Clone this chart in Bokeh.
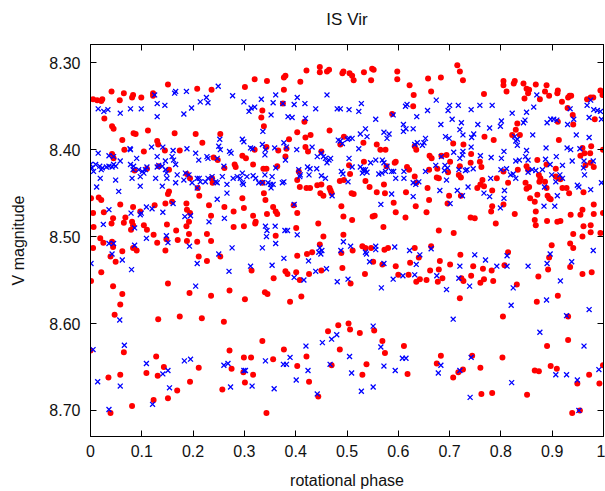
from bokeh.plotting import figure
from bokeh.models import Range1d, FixedTicker, LinearAxis, PrintfTickFormatter
from bokeh.embed import file_html
from bokeh.resources import INLINE

# ---- data: (rotational phase, V magnitude) ----
red_obs = [
    (0.151,8.325),(0.041,8.333),(0.065,8.335),(0.083,8.337),(0.081,8.340),(0.099,8.340),(0.122,8.335),(0.122,8.338),
    (0.208,8.330),(0.236,8.331),(0.301,8.328),(0.005,8.342),(0.013,8.343),(0.023,8.342),(0.021,8.344),(0.057,8.343),
    (0.027,8.364),(0.042,8.373),(0.045,8.376),(0.062,8.389),(0.084,8.381),(0.088,8.382),(0.112,8.378),(0.164,8.381),
    (0.205,8.382),(0.253,8.382),(0.130,8.390),(0.132,8.394),(0.218,8.392),(0.042,8.405),(0.066,8.400),(0.104,8.402),
    (0.145,8.401),(0.174,8.401),(0.045,8.410),(0.240,8.409),(0.248,8.412),(0.296,8.407),(0.303,8.410),(0.086,8.424),
    (0.110,8.422),(0.133,8.419),(0.153,8.423),(0.188,8.428),(0.194,8.433),(0.237,8.433),(0.238,8.438),(0.209,8.444),
    (0.212,8.453),(0.153,8.448),(0.151,8.451),(0.261,8.421),(0.281,8.417),(0.283,8.420),(0.001,8.456),(0.016,8.455),
    (0.021,8.458),(0.058,8.463),(0.083,8.466),(0.097,8.471),(0.125,8.464),(0.146,8.462),(0.159,8.460),(0.187,8.462),
    (0.188,8.469),(0.194,8.473),(0.231,8.464),(0.235,8.476),(0.261,8.466),(0.279,8.471),(0.296,8.456),(0.299,8.467),
    (0.005,8.473),(0.026,8.472),(0.044,8.479),(0.041,8.485),(0.068,8.478),(0.065,8.484),(0.081,8.483),(0.083,8.487),
    (0.079,8.492),(0.104,8.487),(0.006,8.489),(0.149,8.486),(0.167,8.493),(0.192,8.483),(0.187,8.488),(0.279,8.489),
    (0.299,8.488),(0.110,8.492),
    (0.019,8.502),(0.025,8.507),(0.042,8.506),(0.044,8.512),(0.005,8.513),(0.062,8.517),(0.083,8.513),(0.090,8.516),
    (0.039,8.523),(0.049,8.529),(0.123,8.498),(0.148,8.503),(0.130,8.507),(0.146,8.516),(0.170,8.504),(0.192,8.497),
    (0.188,8.505),(0.208,8.506),(0.227,8.497),(0.235,8.505),(0.211,8.523),(0.227,8.528),(0.253,8.523),(0.314,8.539),
    (0.021,8.541),(0.001,8.551),(0.044,8.557),(0.062,8.566),(0.058,8.578),(0.151,8.554),(0.193,8.565),(0.235,8.568),
    (0.271,8.562),(0.301,8.572),(0.047,8.590),(0.132,8.595),(0.174,8.592),(0.217,8.594),(0.260,8.598),(0.000,8.631),
    (0.065,8.633),(0.271,8.631),(0.299,8.639),(0.313,8.639),(0.128,8.638),(0.143,8.650),(0.109,8.657),(0.131,8.660),
    (0.035,8.662),(0.058,8.659),(0.211,8.651),(0.275,8.652),(0.298,8.656),(0.317,8.659),(0.301,8.668),(0.194,8.667),
    (0.169,8.677),(0.151,8.686),(0.123,8.688),(0.081,8.695),(0.257,8.676),(0.039,8.703),
    (0.320,8.319),(0.344,8.321),(0.377,8.317),(0.380,8.315),(0.409,8.322),(0.421,8.309),(0.447,8.305),(0.447,8.311),
    (0.461,8.310),(0.465,8.308),(0.491,8.312),(0.493,8.310),(0.505,8.312),(0.510,8.315),(0.513,8.320),(0.533,8.311),
    (0.549,8.307),(0.552,8.308),(0.547,8.320),(0.598,8.310),(0.598,8.319),(0.622,8.326),(0.630,8.337),(0.629,8.350),
    (0.377,8.331),(0.375,8.347),(0.335,8.355),(0.333,8.363),(0.417,8.368),(0.338,8.373),(0.403,8.380),(0.419,8.386),
    (0.429,8.383),(0.466,8.378),(0.387,8.388),(0.320,8.400),(0.343,8.397),(0.366,8.401),(0.380,8.408),(0.382,8.399),
    (0.419,8.397),(0.424,8.402),(0.450,8.402),(0.494,8.385),(0.487,8.394),(0.532,8.392),(0.558,8.394),(0.565,8.400),
    (0.575,8.400),(0.588,8.359),(0.635,8.400),(0.632,8.396),(0.317,8.417),(0.337,8.422),(0.343,8.422),(0.364,8.419),
    (0.406,8.425),(0.403,8.435),(0.408,8.443),(0.421,8.444),(0.428,8.444),(0.442,8.441),(0.450,8.440),(0.448,8.450),
    (0.454,8.453),(0.466,8.444),(0.468,8.447),(0.470,8.450),(0.486,8.436),(0.494,8.435),(0.506,8.428),(0.504,8.418),
    (0.509,8.450),(0.513,8.451),(0.533,8.414),(0.536,8.436),(0.544,8.443),(0.558,8.449),(0.572,8.440),(0.574,8.450),
    (0.577,8.419),(0.593,8.415),(0.595,8.414),(0.617,8.420),(0.621,8.423),(0.632,8.431),(0.635,8.438),(0.591,8.461),
    (0.595,8.472),(0.615,8.449),(0.634,8.465),(0.614,8.478),(0.338,8.450),(0.341,8.458),(0.356,8.466),(0.361,8.471),
    (0.364,8.474),(0.344,8.474),(0.317,8.476),(0.322,8.483),(0.321,8.485),(0.403,8.473),(0.396,8.464),(0.444,8.485),
    (0.489,8.465),(0.493,8.477),(0.510,8.481),(0.550,8.477),(0.554,8.476),(0.571,8.489),(0.401,8.490),(0.335,8.438),
    (0.361,8.499),(0.454,8.500),(0.493,8.498),(0.447,8.509),(0.489,8.519),(0.511,8.516),(0.530,8.511),(0.536,8.513),
    (0.547,8.513),(0.573,8.515),(0.580,8.513),(0.632,8.513),(0.640,8.524),(0.623,8.530),(0.595,8.534),(0.403,8.522),
    (0.422,8.520),(0.432,8.518),(0.380,8.540),(0.384,8.543),(0.401,8.541),(0.408,8.550),(0.426,8.543),(0.450,8.539),
    (0.491,8.536),(0.507,8.554),(0.535,8.543),(0.551,8.529),(0.569,8.532),(0.600,8.544),(0.620,8.544),(0.635,8.552),
    (0.642,8.549),(0.340,8.564),(0.345,8.566),(0.389,8.575),(0.411,8.569),(0.357,8.548),(0.335,8.620),(0.377,8.630),
    (0.356,8.641),(0.421,8.638),(0.403,8.649),(0.426,8.667),(0.444,8.684),(0.463,8.609),(0.483,8.602),(0.503,8.600),
    (0.506,8.607),(0.525,8.611),(0.486,8.630),(0.553,8.608),(0.569,8.620),(0.574,8.634),(0.611,8.626),(0.618,8.658),
    (0.538,8.647),(0.530,8.659),(0.470,8.648),(0.343,8.703),
    (0.715,8.303),(0.720,8.310),(0.726,8.320),(0.683,8.317),(0.658,8.318),(0.664,8.333),(0.767,8.336),(0.805,8.321),
    (0.805,8.326),(0.811,8.333),(0.825,8.324),(0.827,8.321),(0.844,8.324),(0.850,8.330),(0.855,8.331),(0.853,8.335),
    (0.846,8.341),(0.868,8.325),(0.889,8.326),(0.886,8.333),(0.876,8.342),(0.894,8.338),(0.910,8.335),(0.911,8.332),
    (0.919,8.345),(0.931,8.340),(0.934,8.338),(0.937,8.338),(0.930,8.352),(0.940,8.360),(0.941,8.371),(0.968,8.342),
    (0.975,8.340),(0.980,8.340),(0.994,8.332),(0.998,8.337),(0.983,8.365),(0.832,8.370),(0.829,8.377),(0.822,8.383),
    (0.837,8.383),(0.786,8.389),(0.768,8.385),(0.911,8.368),(0.913,8.389),(0.959,8.398),(0.976,8.396),(0.999,8.400),
    (0.661,8.407),(0.665,8.410),(0.684,8.407),(0.694,8.406),(0.707,8.393),(0.727,8.394),(0.742,8.405),(0.701,8.414),
    (0.720,8.419),(0.741,8.415),(0.759,8.414),(0.762,8.420),(0.660,8.423),(0.676,8.422),(0.675,8.432),(0.679,8.433),
    (0.697,8.426),(0.718,8.429),(0.722,8.432),(0.764,8.435),(0.792,8.433),(0.805,8.425),(0.833,8.423),(0.850,8.419),
    (0.871,8.412),(0.889,8.417),(0.853,8.423),(0.874,8.429),(0.877,8.433),(0.875,8.437),(0.907,8.422),(0.907,8.431),
    (0.912,8.433),(0.916,8.434),(0.928,8.444),(0.955,8.407),(0.963,8.404),(0.974,8.404),(0.975,8.415),(0.981,8.420),
    (0.965,8.418),(0.754,8.444),(0.760,8.440),(0.767,8.442),(0.783,8.447),(0.814,8.438),(0.848,8.438),(0.855,8.443),
    (0.850,8.445),(0.886,8.437),(0.889,8.444),(0.891,8.453),(0.894,8.456),(0.897,8.457),(0.871,8.452),(0.857,8.456),
    (0.920,8.444),(0.933,8.450),(0.961,8.449),(0.657,8.444),(0.660,8.458),(0.699,8.453),(0.696,8.462),(0.722,8.453),
    (0.783,8.465),(0.781,8.471),(0.805,8.463),(0.866,8.460),(0.868,8.471),(0.866,8.481),(0.868,8.487),(0.827,8.474),
    (0.790,8.485),(0.741,8.478),(0.749,8.479),(0.890,8.482),(0.910,8.483),(0.916,8.482),(0.936,8.475),(0.955,8.475),
    (0.959,8.469),(0.981,8.463),(0.981,8.474),(0.999,8.473),(0.655,8.472),(0.679,8.493),(0.961,8.488),(0.975,8.487),
    (0.708,8.496),(0.941,8.497),(0.959,8.500),(0.975,8.495),(0.994,8.496),(0.664,8.511),(0.721,8.521),(0.701,8.532),
    (0.681,8.528),(0.662,8.539),(0.679,8.538),(0.677,8.552),(0.686,8.548),(0.655,8.550),(0.723,8.548),(0.727,8.551),
    (0.742,8.545),(0.746,8.534),(0.760,8.553),(0.767,8.549),(0.765,8.537),(0.782,8.539),(0.785,8.551),(0.814,8.518),
    (0.807,8.533),(0.831,8.555),(0.873,8.546),(0.892,8.538),(0.894,8.524),(0.899,8.510),(0.935,8.508),(0.941,8.513),
    (0.935,8.535),(0.959,8.543),(0.977,8.541),(0.870,8.575),(0.911,8.568),(0.720,8.571),(0.804,8.592),(0.931,8.592),
    (0.931,8.619),(0.890,8.626),(0.683,8.637),(0.675,8.646),(0.744,8.637),(0.803,8.639),(0.760,8.651),(0.707,8.662),
    (0.717,8.656),(0.726,8.653),(0.866,8.654),(0.874,8.655),(0.897,8.649),(0.909,8.652),(0.972,8.659),(0.949,8.669),
    (0.992,8.669),(0.999,8.648),(0.762,8.681),(0.783,8.680),(0.851,8.682),(0.939,8.703),(0.954,8.700),
]

blue_obs = [
    (0.125,8.337),(0.166,8.333),(0.164,8.335),(0.187,8.333),(0.249,8.327),(0.277,8.338),(0.226,8.340),(0.229,8.346),
    (0.214,8.345),(0.299,8.345),(0.309,8.356),(0.015,8.353),(0.026,8.356),(0.034,8.354),(0.058,8.358),(0.078,8.353),
    (0.099,8.353),(0.130,8.347),(0.145,8.349),(0.130,8.362),(0.182,8.359),(0.197,8.352),(0.252,8.388),(0.296,8.388),
    (0.299,8.391),(0.250,8.396),(0.015,8.404),(0.036,8.407),(0.045,8.408),(0.077,8.399),(0.078,8.400),(0.119,8.397),
    (0.141,8.397),(0.161,8.401),(0.188,8.399),(0.205,8.404),(0.211,8.412),(0.253,8.400),(0.271,8.402),(0.274,8.404),
    (0.312,8.398),(0.090,8.410),(0.130,8.408),(0.159,8.408),(0.162,8.412),(0.227,8.408),(0.229,8.410),(0.247,8.410),
    (0.058,8.413),(0.000,8.417),(0.003,8.421),(0.010,8.417),(0.006,8.425),(0.018,8.419),(0.023,8.421),(0.021,8.423),
    (0.031,8.420),(0.036,8.419),(0.042,8.420),(0.045,8.417),(0.049,8.419),(0.078,8.417),(0.084,8.419),(0.083,8.423),
    (0.094,8.423),(0.101,8.425),(0.104,8.427),(0.107,8.423),(0.110,8.420),(0.130,8.420),(0.133,8.418),(0.140,8.419),
    (0.146,8.413),(0.146,8.423),(0.148,8.427),(0.166,8.417),(0.169,8.429),(0.185,8.427),(0.192,8.429),(0.208,8.433),
    (0.212,8.433),(0.214,8.437),(0.224,8.437),(0.229,8.433),(0.237,8.431),(0.244,8.437),(0.247,8.438),(0.257,8.431),
    (0.260,8.419),(0.266,8.440),(0.278,8.433),(0.286,8.431),(0.292,8.433),(0.296,8.427),(0.298,8.440),(0.305,8.431),
    (0.019,8.433),(0.012,8.443),(0.049,8.435),(0.055,8.448),(0.081,8.433),(0.097,8.431),(0.097,8.442),(0.127,8.433),
    (0.140,8.442),(0.149,8.433),(0.166,8.438),(0.182,8.435),(0.198,8.438),(0.208,8.444),(0.247,8.457),(0.266,8.450),
    (0.296,8.438),(0.036,8.469),(0.109,8.466),(0.120,8.468),(0.099,8.473),(0.079,8.473),(0.141,8.472),(0.161,8.462),
    (0.184,8.477),(0.195,8.476),(0.261,8.479),(0.231,8.483),(0.025,8.486),(0.086,8.490),(0.097,8.475),
    (0.036,8.508),(0.045,8.508),(0.042,8.520),(0.062,8.527),(0.001,8.531),(0.086,8.510),(0.109,8.502),(0.148,8.499),
    (0.151,8.507),(0.193,8.511),(0.208,8.531),(0.250,8.520),(0.276,8.513),(0.270,8.540),(0.312,8.534),(0.080,8.538),
    (0.205,8.557),(0.057,8.596),(0.005,8.630),(0.066,8.625),(0.109,8.646),(0.183,8.643),(0.195,8.641),(0.260,8.648),
    (0.268,8.646),(0.302,8.654),(0.299,8.654),(0.014,8.667),(0.058,8.672),(0.141,8.658),(0.151,8.654),(0.154,8.674),
    (0.273,8.673),(0.315,8.672),(0.121,8.693),(0.036,8.699),
    (0.313,8.352),(0.320,8.351),(0.333,8.342),(0.356,8.346),(0.361,8.337),(0.375,8.347),(0.397,8.348),(0.403,8.340),
    (0.418,8.347),(0.439,8.353),(0.461,8.337),(0.481,8.353),(0.487,8.353),(0.504,8.354),(0.523,8.356),(0.528,8.347),
    (0.385,8.362),(0.393,8.363),(0.419,8.364),(0.352,8.360),(0.336,8.379),(0.556,8.365),(0.590,8.360),(0.614,8.350),
    (0.617,8.348),(0.636,8.362),(0.610,8.371),(0.615,8.376),(0.629,8.376),(0.610,8.379),(0.572,8.380),(0.582,8.382),
    (0.578,8.387),(0.536,8.376),(0.526,8.382),(0.539,8.385),(0.523,8.399),(0.504,8.387),(0.510,8.387),(0.501,8.388),
    (0.487,8.390),(0.483,8.389),(0.491,8.393),(0.316,8.399),(0.335,8.394),(0.341,8.400),(0.340,8.406),(0.359,8.398),
    (0.377,8.392),(0.382,8.397),(0.402,8.400),(0.432,8.397),(0.380,8.412),(0.442,8.408),(0.450,8.404),(0.454,8.408),
    (0.458,8.410),(0.465,8.412),(0.468,8.410),(0.461,8.415),(0.504,8.410),(0.510,8.420),(0.526,8.420),(0.532,8.423),
    (0.533,8.425),(0.536,8.423),(0.530,8.427),(0.539,8.426),(0.546,8.415),(0.556,8.412),(0.569,8.412),(0.572,8.415),
    (0.575,8.425),(0.578,8.419),(0.587,8.425),(0.595,8.433),(0.591,8.425),(0.611,8.425),(0.611,8.433),(0.632,8.394),
    (0.637,8.392),(0.629,8.438),(0.634,8.440),(0.640,8.437),(0.317,8.430),(0.322,8.433),(0.328,8.438),(0.335,8.438),
    (0.340,8.429),(0.346,8.438),(0.351,8.440),(0.356,8.440),(0.352,8.444),(0.354,8.431),(0.361,8.421),(0.374,8.438),
    (0.377,8.437),(0.406,8.423),(0.409,8.429),(0.423,8.420),(0.428,8.422),(0.426,8.429),(0.408,8.431),(0.441,8.422),
    (0.450,8.430),(0.458,8.433),(0.471,8.453),(0.489,8.425),(0.492,8.428),(0.502,8.437),(0.562,8.428),(0.568,8.427),
    (0.587,8.451),(0.629,8.454),(0.397,8.463),(0.566,8.463),(0.341,8.488),(0.344,8.493),(0.360,8.488),(0.379,8.493),
    (0.384,8.493),
    (0.343,8.500),(0.361,8.508),(0.403,8.498),(0.335,8.513),(0.447,8.513),(0.451,8.516),(0.445,8.518),(0.449,8.520),
    (0.493,8.506),(0.507,8.511),(0.488,8.516),(0.536,8.518),(0.538,8.520),(0.556,8.511),(0.556,8.515),(0.593,8.512),
    (0.622,8.516),(0.642,8.521),(0.635,8.532),(0.377,8.525),(0.354,8.533),(0.425,8.528),(0.439,8.540),(0.460,8.537),
    (0.397,8.547),(0.416,8.550),(0.481,8.552),(0.502,8.549),(0.544,8.529),(0.572,8.531),(0.590,8.549),(0.609,8.545),
    (0.632,8.544),(0.567,8.559),(0.551,8.603),(0.480,8.613),(0.470,8.618),(0.452,8.622),(0.420,8.626),(0.566,8.627),
    (0.505,8.638),(0.389,8.639),(0.376,8.647),(0.382,8.647),(0.341,8.643),(0.424,8.654),(0.467,8.647),(0.401,8.665),
    (0.358,8.675),(0.442,8.681),(0.509,8.657),(0.528,8.678),(0.551,8.673),(0.572,8.649),(0.594,8.654),(0.608,8.640),
    (0.615,8.640),
    (0.674,8.343),(0.657,8.355),(0.700,8.349),(0.697,8.355),(0.717,8.349),(0.705,8.365),(0.742,8.354),(0.759,8.349),
    (0.783,8.349),(0.822,8.358),(0.850,8.357),(0.847,8.366),(0.844,8.369),(0.864,8.351),(0.870,8.337),(0.935,8.353),
    (0.942,8.365),(0.930,8.371),(0.890,8.369),(0.897,8.365),(0.903,8.365),(0.909,8.366),(0.968,8.349),(0.975,8.343),
    (0.981,8.354),(0.988,8.355),(0.994,8.356),(0.972,8.363),(0.996,8.365),(0.683,8.371),(0.723,8.369),(0.720,8.377),
    (0.726,8.383),(0.755,8.371),(0.778,8.375),(0.801,8.367),(0.799,8.373),(0.692,8.385),(0.699,8.387),(0.743,8.386),
    (0.747,8.382),(0.827,8.385),(0.829,8.390),(0.832,8.388),(0.862,8.383),(0.947,8.383),(0.972,8.386),(0.653,8.387),
    (0.650,8.392),(0.647,8.395),(0.708,8.403),(0.684,8.408),(0.726,8.402),(0.725,8.406),(0.742,8.397),(0.760,8.407),
    (0.781,8.409),(0.806,8.402),(0.801,8.410),(0.829,8.413),(0.836,8.412),(0.850,8.401),(0.848,8.408),(0.853,8.412),
    (0.832,8.395),(0.888,8.398),(0.929,8.398),(0.936,8.400),(0.954,8.399),(0.939,8.413),(0.887,8.411),(0.908,8.408),
    (0.920,8.418),(0.896,8.417),(0.653,8.425),(0.673,8.418),(0.691,8.418),(0.690,8.424),(0.696,8.421),(0.718,8.423),
    (0.720,8.410),(0.731,8.424),(0.734,8.423),(0.746,8.422),(0.800,8.423),(0.811,8.422),(0.819,8.429),(0.824,8.428),
    (0.829,8.433),(0.853,8.426),(0.868,8.424),(0.861,8.423),(0.881,8.423),(0.899,8.429),(0.907,8.437),(0.915,8.429),
    (0.920,8.433),(0.961,8.421),(0.963,8.429),(0.962,8.413),(0.980,8.413),(0.694,8.435),(0.715,8.447),(0.725,8.453),
    (0.736,8.443),(0.767,8.450),(0.778,8.454),(0.780,8.433),(0.807,8.447),(0.806,8.456),(0.799,8.467),(0.885,8.443),
    (0.910,8.453),(0.949,8.441),(0.952,8.443),(0.975,8.446),(0.996,8.438),(0.681,8.447),(0.701,8.462),(0.884,8.465),
    (0.905,8.465),
    (0.664,8.514),(0.720,8.534),(0.749,8.521),(0.770,8.527),(0.792,8.534),(0.812,8.522),(0.812,8.534),(0.853,8.534),
    (0.896,8.520),(0.890,8.531),(0.938,8.529),(0.980,8.516),(0.675,8.545),(0.718,8.548),(0.739,8.557),(0.694,8.561),
    (0.824,8.559),(0.916,8.551),(0.820,8.579),(0.889,8.573),(0.928,8.591),(0.972,8.584),(0.707,8.595),(0.876,8.610),
    (0.962,8.626),(0.742,8.639),(0.683,8.648),(0.678,8.657),(0.720,8.654),(0.821,8.668),(0.740,8.685),(0.907,8.659),
    (0.928,8.659),(0.949,8.665),(0.991,8.653),(0.952,8.700),
]

x_ticks = [0, 0.1, 0.2, 0.3, 0.4, 0.5, 0.6, 0.7, 0.8, 0.9, 1]
x_tick_labels = ["0", "0.1", "0.2", "0.3", "0.4", "0.5", "0.6", "0.7", "0.8", "0.9", "1"]
y_ticks = [8.3, 8.4, 8.5, 8.6, 8.7]
chart_title = "IS Vir"

red_phase = [a for a, b in red_obs]
red_mag = [b for a, b in red_obs]
blue_phase = [a for a, b in blue_obs]
blue_mag = [b for a, b in blue_obs]

FONT = "Liberation Sans"

p = figure(width=605, height=491, output_backend="svg", toolbar_location=None,
           x_range=Range1d(0, 1), y_range=Range1d(8.73, 8.279))
p.min_border_left = 90
p.min_border_right = 2
p.min_border_top = 44
p.min_border_bottom = 55
p.background_fill_color = "white"
p.border_fill_color = "white"
p.outline_line_color = "black"
p.outline_line_width = 1
p.grid.visible = False

for ax in (p.xaxis[0], p.yaxis[0]):
    ax.major_label_text_font = FONT
    ax.major_label_text_font_size = "16px"
    ax.major_label_text_color = "#111111"
    ax.axis_label_text_font = FONT
    ax.axis_label_text_font_size = "16px"
    ax.axis_label_text_font_style = "normal"
    ax.axis_label_text_color = "#111111"
    ax.major_tick_in = 6
    ax.major_tick_out = 0
    ax.minor_tick_in = 0
    ax.minor_tick_out = 0
    ax.axis_line_color = "black"

p.xaxis[0].ticker = FixedTicker(ticks=x_ticks)
p.xaxis[0].major_label_overrides = {t: s for t, s in zip(x_ticks, x_tick_labels)}
p.xaxis[0].axis_label = "rotational phase"
p.xaxis[0].major_label_standoff = 8
p.xaxis[0].axis_label_standoff = 12

p.yaxis[0].ticker = FixedTicker(ticks=y_ticks)
p.yaxis[0].formatter = PrintfTickFormatter(format="%.2f")
p.yaxis[0].axis_label = "V magnitude"
p.yaxis[0].major_label_standoff = 10
p.yaxis[0].axis_label_standoff = 19

# mirrored top axis carries the chart title as its label
top = LinearAxis(ticker=FixedTicker(ticks=x_ticks), major_label_overrides={t: "" for t in x_ticks},
                 major_tick_in=6, major_tick_out=0, minor_tick_in=0, minor_tick_out=0,
                 major_label_standoff=0, axis_line_color="black",
                 axis_label=chart_title, axis_label_standoff=16,
                 axis_label_text_font=FONT, axis_label_text_font_size="17px",
                 axis_label_text_font_style="normal", axis_label_text_color="#111111")
right = LinearAxis(ticker=FixedTicker(ticks=y_ticks), major_label_overrides={t: "" for t in y_ticks},
                   major_tick_in=6, major_tick_out=0, minor_tick_in=0, minor_tick_out=0,
                   major_label_standoff=0, axis_line_color="black")
p.add_layout(top, "above")
p.add_layout(right, "right")

p.scatter(red_phase, red_mag, marker="circle", size=6, fill_color="#ff0000", line_color="#ff0000", line_width=0)
p.scatter(blue_phase, blue_mag, marker="x", size=7, line_color="#0000ff", line_width=1.3)

open("out.html", "w").write(file_html(p, INLINE))
